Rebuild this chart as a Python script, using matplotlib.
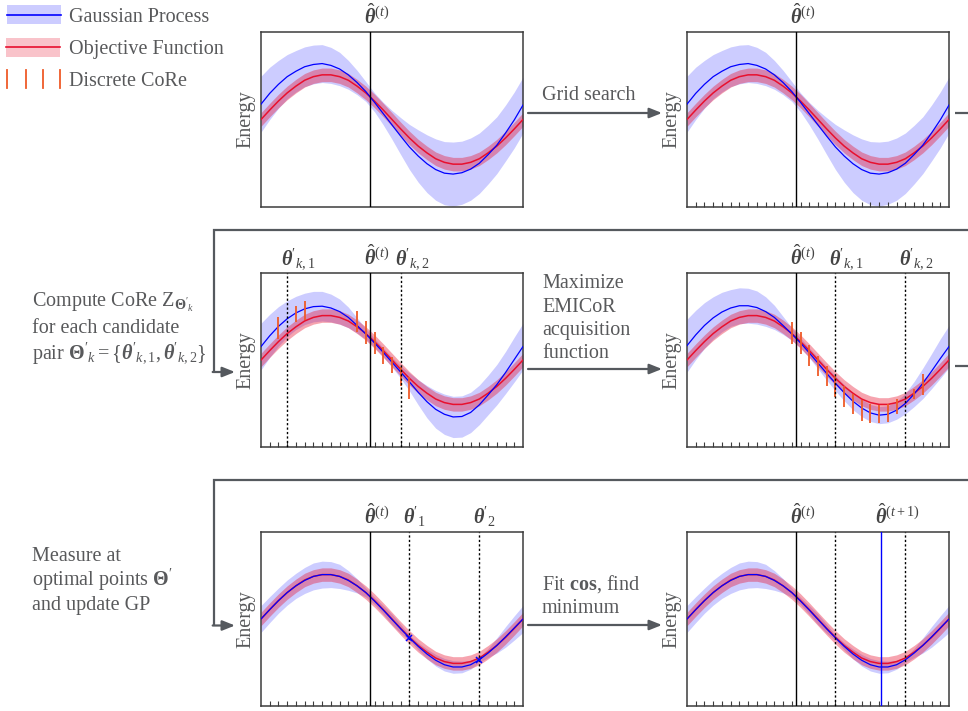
import numpy as np
import matplotlib
matplotlib.use("Agg")
import matplotlib.pyplot as plt
from matplotlib.patches import Rectangle, FancyArrowPatch

plt.rcParams['font.family'] = ['Liberation Serif', 'DejaVu Serif']
plt.rcParams['mathtext.fontset'] = 'custom'
plt.rcParams['mathtext.rm'] = 'Liberation Serif'
plt.rcParams['mathtext.it'] = 'Liberation Serif:italic'
plt.rcParams['mathtext.bf'] = 'Liberation Serif:bold'
plt.rcParams['mathtext.bfit'] = 'Liberation Serif:bold:italic'

# ---------------- data ----------------
theta_grid = np.linspace(0, 2 * np.pi, 31)      # 31 grid points (j = 0..30)

objective = [0.00, 0.21, 0.41, 0.59, 0.74, 0.87, 0.95, 0.99, 0.99, 0.95, 0.87,
             0.74, 0.59, 0.41, 0.21, 0.00, -0.21, -0.41, -0.59, -0.74, -0.87,
             -0.95, -0.99, -0.99, -0.95, -0.87, -0.74, -0.59, -0.41, -0.21, 0.00]
objective_halfwidth = 0.15

gp_mean_init = [0.34, 0.58, 0.78, 0.95, 1.07, 1.17, 1.22, 1.24, 1.20, 1.12, 0.99,
                0.82, 0.62, 0.38, 0.13, -0.12, -0.37, -0.61, -0.81, -0.98, -1.11,
                -1.19, -1.21, -1.18, -1.10, -0.97, -0.78, -0.57, -0.30, -0.01, 0.32]
gp_std_init = [0.62, 0.58, 0.53, 0.49, 0.46, 0.44, 0.43, 0.42, 0.40, 0.37, 0.32,
               0.27, 0.22, 0.21, 0.25, 0.32, 0.41, 0.50, 0.58, 0.64, 0.68,
               0.70, 0.71, 0.70, 0.69, 0.67, 0.65, 0.63, 0.62, 0.62, 0.62]

gp_mean_core = [0.30, 0.54, 0.75, 0.92, 1.05, 1.14, 1.19, 1.20, 1.16, 1.08, 0.95,
                0.77, 0.58, 0.38, 0.17, -0.05, -0.27, -0.49, -0.72, -0.93, -1.10,
                -1.21, -1.27, -1.26, -1.17, -1.00, -0.78, -0.55, -0.28, 0.01, 0.30]
gp_std_core = [0.52, 0.48, 0.44, 0.40, 0.37, 0.35, 0.34, 0.33, 0.31, 0.28, 0.23,
               0.17, 0.12, 0.10, 0.10, 0.11, 0.14, 0.20, 0.28, 0.36, 0.42,
               0.45, 0.46, 0.46, 0.45, 0.44, 0.44, 0.45, 0.47, 0.50, 0.52]

gp_mean_acq = [0.32, 0.56, 0.77, 0.94, 1.07, 1.16, 1.21, 1.21, 1.17, 1.08, 0.95,
               0.77, 0.58, 0.38, 0.16, -0.07, -0.30, -0.52, -0.73, -0.92, -1.07,
               -1.18, -1.23, -1.21, -1.12, -0.97, -0.76, -0.52, -0.25, 0.03, 0.30]
gp_std_acq = [0.59, 0.55, 0.51, 0.47, 0.44, 0.41, 0.40, 0.39, 0.37, 0.33, 0.27,
              0.20, 0.14, 0.11, 0.11, 0.13, 0.15, 0.17, 0.18, 0.19, 0.19,
              0.19, 0.19, 0.19, 0.20, 0.23, 0.28, 0.34, 0.39, 0.44, 0.47]

gp_mean_upd = [0.00, 0.21, 0.41, 0.59, 0.74, 0.86, 0.95, 0.99, 0.99, 0.95, 0.86,
               0.74, 0.59, 0.40, 0.20, -0.01, -0.22, -0.42, -0.61, -0.78, -0.92,
               -1.02, -1.07, -1.07, -1.02, -0.91, -0.76, -0.59, -0.40, -0.20, 0.00]
gp_std_upd = [0.30, 0.29, 0.28, 0.28, 0.28, 0.29, 0.30, 0.30, 0.29, 0.27, 0.22,
              0.16, 0.10, 0.08, 0.10, 0.12, 0.10, 0.06, 0.08, 0.11, 0.13,
              0.14, 0.14, 0.13, 0.10, 0.06, 0.10, 0.17, 0.23, 0.27, 0.30]

# discrete CoRe segments (grid index, low, high)
core_c_idx = [2, 4, 5, 11, 12, 13, 14, 15, 16, 17]
core_c_low = [0.47, 0.85, 0.90, 0.62, 0.36, 0.14, -0.10, -0.30, -0.59, -0.87]
core_c_high = [0.96, 1.21, 1.32, 1.09, 0.88, 0.62, 0.30, 0.06, -0.16, -0.39]

core_d_idx = [12, 13, 14, 15, 16, 17, 18, 19, 20, 21, 22, 23, 24, 26, 27]
core_d_low = [0.36, 0.13, -0.13, -0.35, -0.57, -0.83, -1.05, -1.20, -1.35, -1.40,
              -1.40, -1.38, -1.20, -0.87, -0.79]
core_d_high = [0.85, 0.62, 0.33, 0.10, -0.13, -0.35, -0.57, -0.76, -0.90, -0.98,
               -1.01, -0.98, -0.87, -0.64, -0.31]

theta_hat = 2.61
theta_next = 4.65
pair_candidate = [3, 16]    # grid indices of candidate pair
pair_optimal = [17, 25]     # grid indices of optimal pair

# ---------------- styles ----------------
W, H = 968, 711
BLUE = '#0000ff'
RED = '#e8102e'
ORANGE = '#ef5a28'
GRAY = '#55595e'
TXT = '#58595b'
DARK = '#3c3c3c'
FS = 14.5

fig = plt.figure(figsize=(W / 100, H / 100), dpi=100)

ov = fig.add_axes([0, 0, 1, 1])
ov.set_xlim(0, W)
ov.set_ylim(H, 0)
ov.axis('off')


def panel(left, top, width=262, height=174):
    return fig.add_axes([left / W, 1 - (top + height) / H, width / W, height / H])


def draw_gp(ax, mean, std, ticks=True):
    m = np.array(mean)
    s = np.array(std)
    obj = np.array(objective)
    ax.fill_between(theta_grid, m - s, m + s, color=BLUE, alpha=0.2, lw=0, zorder=1)
    ax.fill_between(theta_grid, obj - objective_halfwidth, obj + objective_halfwidth,
                    color=RED, alpha=0.38, lw=0, zorder=2)
    ax.plot(theta_grid, obj, color=RED, lw=1.1, zorder=3)
    ax.plot(theta_grid, m, color=BLUE, lw=0.9, zorder=4)
    ax.set_xlim(0, 2 * np.pi)
    ax.set_ylim(-1.94, 1.94)
    ax.set_yticks([])
    if ticks:
        ax.set_xticks(theta_grid[1:30])
        ax.tick_params(axis='x', direction='in', length=3.5, width=0.8,
                       color=DARK, labelbottom=False)
    else:
        ax.set_xticks([])
    for sp in ax.spines.values():
        sp.set_color(DARK)
        sp.set_linewidth(1.1)
    ax.set_ylabel('Energy', fontsize=FS, color=TXT, labelpad=4)


def vline(ax, x, style='solid', color='black'):
    if style == 'solid':
        ax.axvline(x, color=color, lw=1.0, zorder=6)
    else:
        ax.axvline(x, color=color, lw=1.0, ls=(0, (1.6, 1.6)), zorder=6)


def toplabel(ax, x, s, dx=-6.0):
    ax.annotate(s, xy=(x, 1), xycoords=('data', 'axes fraction'),
                xytext=(dx, 8), textcoords='offset pixels', ha='left',
                va='baseline', fontsize=14.5, color='#444444', annotation_clip=False)


def core(ax, idx, low, high):
    ax.vlines(theta_grid[idx], low, high, color=ORANGE, lw=1.3, zorder=5)


L_HAT = r'$\hat{\mathbfit{\theta}}^{(t)}$'
L_NEXT = r'$\hat{\mathbfit{\theta}}^{(t+1)}$'
L_K1 = r"$\mathbfit{\theta}'_{k,1}$"
L_K2 = r"$\mathbfit{\theta}'_{k,2}$"
L_1 = r"$\mathbfit{\theta}'_{1}$"
L_2 = r"$\mathbfit{\theta}'_{2}$"

# Row 1
axA = panel(261, 32, height=175)
draw_gp(axA, gp_mean_init, gp_std_init, ticks=False)
vline(axA, theta_hat)
toplabel(axA, theta_hat, L_HAT)

axB = panel(687, 32, height=175)
draw_gp(axB, gp_mean_init, gp_std_init)
vline(axB, theta_hat)
toplabel(axB, theta_hat, L_HAT)

# Row 2
axC = panel(261, 273)
draw_gp(axC, gp_mean_core, gp_std_core)
vline(axC, theta_hat)
vline(axC, theta_grid[pair_candidate[0]], 'dotted')
vline(axC, theta_grid[pair_candidate[1]], 'dotted')
core(axC, core_c_idx, core_c_low, core_c_high)
toplabel(axC, theta_hat, L_HAT)
toplabel(axC, theta_grid[pair_candidate[0]], L_K1)
toplabel(axC, theta_grid[pair_candidate[1]], L_K2)

axD = panel(687, 273)
draw_gp(axD, gp_mean_acq, gp_std_acq)
vline(axD, theta_hat)
vline(axD, theta_grid[pair_optimal[0]], 'dotted')
vline(axD, theta_grid[pair_optimal[1]], 'dotted')
core(axD, core_d_idx, core_d_low, core_d_high)
toplabel(axD, theta_hat, L_HAT)
toplabel(axD, theta_grid[pair_optimal[0]], L_K1)
toplabel(axD, theta_grid[pair_optimal[1]], L_K2)

# Row 3
axE = panel(261, 532)
draw_gp(axE, gp_mean_upd, gp_std_upd)
vline(axE, theta_hat)
vline(axE, theta_grid[pair_optimal[0]], 'dotted')
vline(axE, theta_grid[pair_optimal[1]], 'dotted')
axE.plot(theta_grid[pair_optimal], np.array(gp_mean_upd)[pair_optimal], 'x',
         color=BLUE, ms=4.5, mew=1.1, zorder=7)
toplabel(axE, theta_hat, L_HAT)
toplabel(axE, theta_grid[pair_optimal[0]], L_1)
toplabel(axE, theta_grid[pair_optimal[1]], L_2)

axF = panel(687, 532)
draw_gp(axF, gp_mean_upd, gp_std_upd)
vline(axF, theta_hat)
vline(axF, theta_grid[pair_optimal[0]], 'dotted')
vline(axF, theta_grid[pair_optimal[1]], 'dotted')
vline(axF, theta_next, color=BLUE)
toplabel(axF, theta_hat, L_HAT)
toplabel(axF, theta_next, L_NEXT)

# ---------------- legend ----------------
ov.add_patch(Rectangle((7, 5), 54, 19, color=BLUE, alpha=0.2, lw=0))
ov.plot([7, 61], [14.7, 14.7], color=BLUE, lw=1.2)
ov.add_patch(Rectangle((6, 38), 54, 19, color=RED, alpha=0.25, lw=0))
ov.plot([6, 60], [47.3, 47.3], color=RED, lw=1.2)
for xx in [7.3, 25.7, 43.3, 60]:
    ov.plot([xx, xx], [70, 88], color=ORANGE, lw=1.3)
ov.text(69, 22.3, 'Gaussian Process', fontsize=FS, color=TXT, va='baseline')
ov.text(69, 54, 'Objective Function', fontsize=FS, color=TXT, va='baseline')
ov.text(69, 86, 'Discrete CoRe', fontsize=FS, color=TXT, va='baseline')

# ---------------- flow text & arrows ----------------
def arrow(x0, y0, x1, y1):
    ov.add_patch(FancyArrowPatch((x0, y0), (x1, y1),
                                 arrowstyle='-|>,head_length=0.5,head_width=0.2',
                                 mutation_scale=15, lw=1.6, color=GRAY,
                                 shrinkA=0, shrinkB=0))


def line(xs, ys):
    ov.plot(xs, ys, color=GRAY, lw=1.6, solid_joinstyle='miter',
            solid_capstyle='butt')


ov.text(542, 100, 'Grid search', fontsize=FS, color=TXT, va='baseline')
arrow(528, 113, 662, 113)

for yy, s in zip([288, 312, 335, 358],
                 ['Maximize', 'EMICoR', 'acquisition', 'function']):
    ov.text(542, yy, s, fontsize=FS, color=TXT, va='baseline')
arrow(528, 369, 662, 369)

ov.text(542, 590, r'Fit $\mathbf{cos}$, find', fontsize=FS, color=TXT, va='baseline')
ov.text(542, 613, 'minimum', fontsize=FS, color=TXT, va='baseline')
arrow(528, 625, 662, 625)

ov.text(32, 307, r"Compute CoRe $\mathrm{Z}_{\mathbf{\Theta}'_k}$", fontsize=FS,
        color=TXT, va='baseline')
ov.text(32, 333, 'for each candidate', fontsize=FS, color=TXT, va='baseline')
ov.text(32, 359, r"pair $\mathbf{\Theta}'_k = \{\mathbfit{\theta}'_{k,1}, \mathbfit{\theta}'_{k,2}\}$",
        fontsize=FS, color=TXT, va='baseline')

ov.text(32, 561, 'Measure at', fontsize=FS, color=TXT, va='baseline')
ov.text(32, 586, r"optimal points $\mathbf{\Theta}'$", fontsize=FS, color=TXT,
        va='baseline')
ov.text(32, 610, 'and update GP', fontsize=FS, color=TXT, va='baseline')

# connectors
line([955, 968], [113, 113])
line([955, 968], [366, 366])
line([968, 213.5, 213.5], [229.6, 229.6, 372])
arrow(212.7, 372, 235, 372)
line([968, 213.5, 213.5], [480.3, 480.3, 625.5])
arrow(212.7, 625.5, 235, 625.5)

fig.savefig('out.png', dpi=100)
